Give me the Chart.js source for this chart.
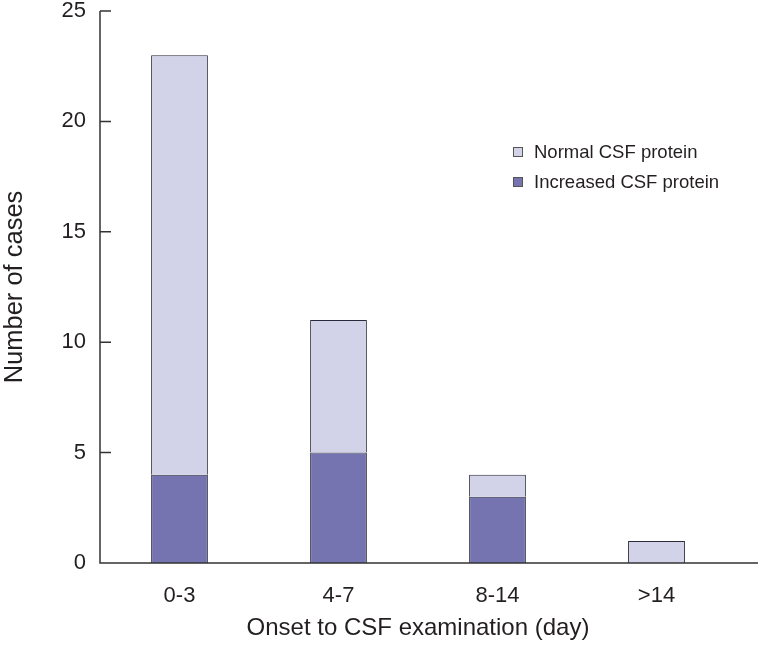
<!DOCTYPE html>
<html>
<head>
<meta charset="utf-8">
<script src="https://cdn.jsdelivr.net/npm/chart.js@4"></script>
<style>
  html, body { margin: 0; padding: 0; background: #fff; }
  #wrap { width: 760px; height: 648px; }
</style>
</head>
<body>
<div id="wrap"><canvas id="csfChart"></canvas></div>
<script>
const categories = ['0-3', '4-7', '8-14', '>14'];
const increasedProtein = [4, 5, 3, 0];
const normalProtein = [19, 6, 1, 1];
const yTicks = [0, 5, 10, 15, 20, 25];

const FONT = '"Liberation Sans Narrow", "Liberation Sans", Arial, sans-serif';
const INK = '#231f20';

// axis lines, inward y ticks and legend drawn by hand
const axesPlugin = {
    id: 'axes',
    afterDatasetsDraw(chart) {
        const ctx = chart.ctx;
        const y = chart.scales.y;
        const area = chart.chartArea;
        const y0 = y.getPixelForValue(0);
        ctx.save();
        ctx.strokeStyle = '#333';
        ctx.lineWidth = 1.5;
        ctx.beginPath();
        ctx.moveTo(area.left, y.getPixelForValue(25));
        ctx.lineTo(area.left, y0);
        ctx.lineTo(chart.width - 2, y0);
        yTicks.forEach(v => {
            const py = y.getPixelForValue(v);
            ctx.moveTo(area.left, py);
            ctx.lineTo(area.left + 11, py);
        });
        ctx.stroke();

        // legend
        const items = [chart.data.datasets[1], chart.data.datasets[0]];
        ctx.font = '18.5px ' + FONT;
        ctx.textBaseline = 'middle';
        items.forEach((ds, i) => {
            const cy = 152 + i * 30;
            ctx.fillStyle = ds.backgroundColor;
            ctx.fillRect(513, cy - 5, 10, 10);
            ctx.lineWidth = 1;
            ctx.strokeStyle = '#555';
            ctx.strokeRect(513.5, cy - 4.5, 9, 9);
            ctx.fillStyle = INK;
            ctx.fillText(ds.label, 534, cy + 1);
        });
        ctx.restore();
    }
};

new Chart(document.getElementById('csfChart'), {
    type: 'bar',
    data: {
        labels: categories,
        datasets: [{
            label: 'Increased CSF protein',
            data: increasedProtein,
            backgroundColor: '#7574b0',
            borderColor: '#2a2a3a',
            borderWidth: 1
        }, {
            label: 'Normal CSF protein',
            data: normalProtein,
            backgroundColor: '#d2d2e8',
            borderColor: '#2a2a3a',
            borderWidth: 1
        }]
    },
    options: {
        responsive: true,
        maintainAspectRatio: false,
        animation: false,
        devicePixelRatio: 1,
        layout: { autoPadding: false, padding: { top: 11, right: 24, left: 0, bottom: 0 } },
        datasets: { bar: { barPercentage: 1, categoryPercentage: 0.357 } },
        plugins: {
            legend: { display: false },
            tooltip: { enabled: false }
        },
        scales: {
            x: {
                stacked: true,
                grid: { display: false, drawTicks: false },
                border: { display: false },
                ticks: { color: INK, font: { family: FONT, size: 22 }, padding: 20 },
                title: { display: true, text: 'Onset to CSF examination (day)', color: INK,
                         font: { family: FONT, size: 24 }, padding: { top: 0, bottom: 5 } },
                afterFit(scale) {
                    scale.height = 85;
                    scale.paddingLeft = 0;
                    scale.paddingRight = 0;
                }
            },
            y: {
                stacked: true,
                min: 0,
                max: 25,
                grid: { display: false, drawTicks: false },
                border: { display: false },
                afterBuildTicks(scale) { scale.ticks = yTicks.map(v => ({ value: v })); },
                ticks: { color: INK, font: { family: FONT, size: 22 }, padding: 14 },
                title: { display: true, text: 'Number of cases', color: INK,
                         font: { family: FONT, size: 25.5 }, padding: { top: 0, bottom: 0 } },
                afterFit(scale) {
                    scale.width = 100;
                    scale.paddingTop = 0;
                    scale.paddingBottom = 0;
                }
            }
        }
    },
    plugins: [axesPlugin]
});
</script>
</body>
</html>
